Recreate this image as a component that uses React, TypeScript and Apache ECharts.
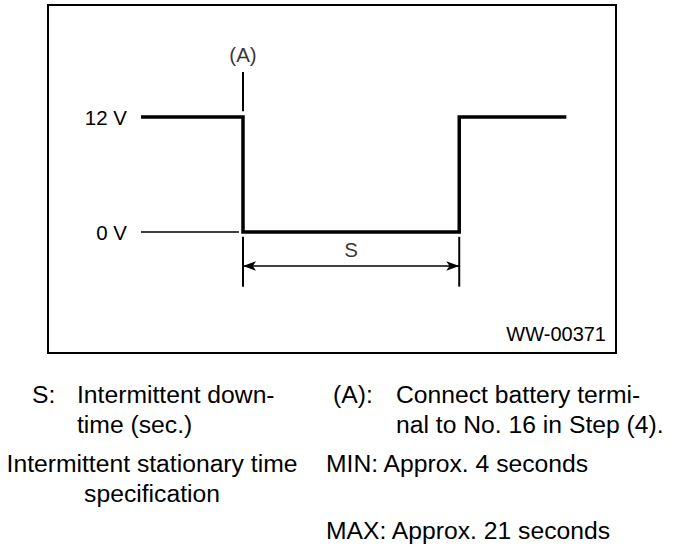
import React, { useEffect, useRef } from "react";
import * as echarts from "echarts";

// Schematic time units (x) and voltage levels (y)
const waveTime = [0, 1, 1, 3.12, 3.12, 4.17];
const waveVolt = [12, 12, 0, 0, 12, 12];
const baseTime = [0, 0.96];
const baseVolt = [0, 0];
const markerATime = [1, 1];
const markerAVolt = [12.6, 16.7];
const dimStart = 1;
const dimEnd = 3.12;
const dimTickVolt = [-0.5, -5.7];
const dimArrowVolt = -3.55;
const voltTicks = [0, 12];
const voltTickLabels = ["0 V", "12 V"];
const pointLabels = ["(A)", "S"];
const pointLabelTime = [1, 2.06];
const pointLabelVolt = [18.5, -1.8];
const figureId = "WW-00371";

const FONT = "'Liberation Sans', Arial, Helvetica, sans-serif";

const notes = [
  { text: "S:", x: 32, y: 394, align: "left" },
  { text: "Intermittent down-", x: 77, y: 394, align: "left" },
  { text: "time (sec.)", x: 77, y: 424, align: "left" },
  { text: "(A):", x: 333, y: 394, align: "left" },
  { text: "Connect battery termi-", x: 396, y: 394, align: "left" },
  { text: "nal to No. 16 in Step (4).", x: 396, y: 424, align: "left" },
  { text: "Intermittent stationary time", x: 152, y: 463, align: "center" },
  { text: "specification", x: 152, y: 493, align: "center" },
  { text: "MIN: Approx. 4 seconds", x: 326, y: 463, align: "left" },
  { text: "MAX: Approx. 21 seconds", x: 326, y: 530, align: "left" },
];

const zip = (xs: number[], ys: number[]) => xs.map((x, i) => [x, ys[i]]);

export default function App() {
  const ref = useRef<HTMLDivElement>(null);
  useEffect(() => {
    if (!ref.current) return;
    const chart = echarts.init(ref.current, null, { renderer: "svg" });
    const black = "#000";
    const lineSeries = (data: number[][], width: number, extra: any = {}) => ({
      type: "line",
      data,
      symbol: "none",
      silent: true,
      clip: false,
      lineStyle: { color: black, width, cap: "butt", join: "miter" },
      ...extra,
    });
    chart.setOption({
      animation: false,
      backgroundColor: "#fff",
      grid: { left: 141, top: 2, width: 433.5, height: 345 },
      xAxis: {
        type: "value",
        min: 0,
        max: 4.25,
        show: false,
      },
      yAxis: {
        type: "value",
        min: -12,
        max: 24,
        interval: 6,
        axisLine: { show: false },
        axisTick: { show: false },
        splitLine: { show: false },
        axisLabel: {
          margin: 14,
          color: black,
          fontFamily: FONT,
          fontSize: 20.5,
          formatter: (v: number) => {
            const i = voltTicks.indexOf(v);
            return i >= 0 ? voltTickLabels[i] : "";
          },
        },
      },
      series: [
        lineSeries(zip(baseTime, baseVolt), 1.5),
        lineSeries(zip(markerATime, markerAVolt), 2),
        lineSeries(zip(waveTime, waveVolt), 3.5),
        lineSeries(zip([dimStart, dimStart], dimTickVolt), 2),
        lineSeries(zip([dimEnd, dimEnd], dimTickVolt), 2, {
          markLine: {
            silent: true,
            symbol: ["arrow", "arrow"],
            symbolSize: [7, 13],
            label: { show: false },
            lineStyle: { color: black, width: 1.5, type: "solid" },
            data: [
              [
                { coord: [dimStart, dimArrowVolt] },
                { coord: [dimEnd, dimArrowVolt] },
              ],
            ],
          },
        }),
        {
          type: "scatter",
          silent: true,
          clip: false,
          symbolSize: 0,
          data: pointLabels.map((t, i) => ({
            value: [pointLabelTime[i], pointLabelVolt[i]],
            label: {
              show: true,
              formatter: t,
              position: "inside",
              color: black,
              fontFamily: FONT,
              fontSize: 20.5,
            },
          })),
        },
      ],
      graphic: [
        {
          type: "rect",
          silent: true,
          shape: { x: 48, y: 5, width: 568, height: 348 },
          style: { fill: "none", stroke: black, lineWidth: 2 },
        },
        {
          type: "text",
          silent: true,
          x: 606,
          y: 334,
          style: {
            text: figureId,
            fill: black,
            font: `20px ${FONT}`,
            textAlign: "right",
            textVerticalAlign: "middle",
          },
        },
        ...notes.map((n) => ({
          type: "text",
          silent: true,
          x: n.x,
          y: n.y,
          style: {
            text: n.text,
            fill: black,
            font: `24.7px ${FONT}`,
            textAlign: n.align,
            textVerticalAlign: "middle",
          },
        })),
      ],
    });
    return () => chart.dispose();
  }, []);
  return (
    <div
      ref={ref}
      style={{ position: "fixed", left: 0, top: 0, width: 688, height: 560 }}
    />
  );
}
